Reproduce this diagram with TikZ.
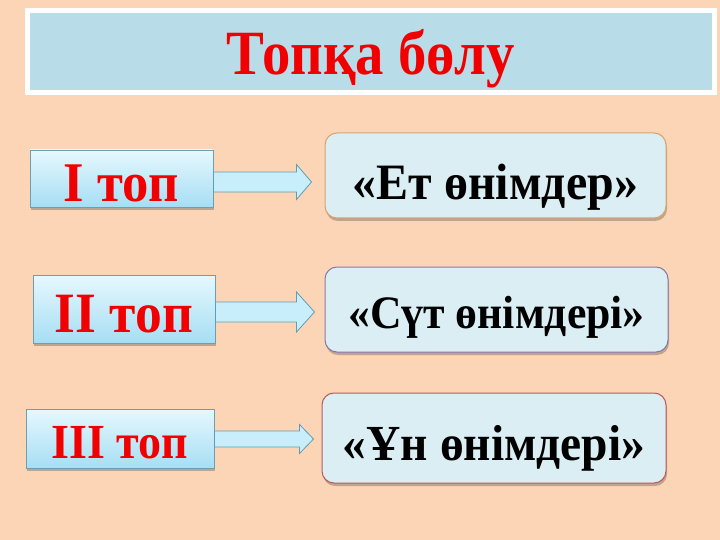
\documentclass[tikz,border=0pt]{standalone}
\usepackage{fontspec}
\setmainfont{Liberation Serif}
\usetikzlibrary{shadows,calc}
\definecolor{bgc}{HTML}{FBD5B5}
\definecolor{titlefill}{HTML}{B8DDE8}
\definecolor{rfill}{HTML}{DAEEF4}
\definecolor{rline1}{HTML}{DDA268}
\definecolor{rline2}{HTML}{8878A8}
\definecolor{rline3}{HTML}{C05858}
\definecolor{lline}{HTML}{6C9FB4}
\definecolor{ltop}{HTML}{E6F8FE}
\definecolor{lbot}{HTML}{A6DEF4}
\definecolor{afill}{HTML}{C8EEFB}
\definecolor{aline}{HTML}{5E9DB5}
\definecolor{tred}{HTML}{F00000}
\newcommand\sq[1]{\scalebox{0.94}[1]{#1}}
\tikzset{
  fnt/.style={font=\fontsize{#1}{#1}\selectfont\bfseries},
  sh/.style={drop shadow={shadow xshift=1pt,shadow yshift=-3pt,opacity=0.35,fill=black!70}},
  titlebox/.style={draw=white,line width=5pt,fill=titlefill,inner sep=0pt,sh,text=tred},
  leftbox/.style={draw=lline,line width=0.8pt,top color=ltop,bottom color=lbot,inner sep=0pt,sh,text=tred},
  rightbox/.style={draw=#1,line width=1pt,fill=rfill,rounded corners=12pt,inner sep=0pt,sh,text=black},
  arrowst/.style={draw=aline,line width=0.8pt,fill=afill,line join=miter},
}
\newcommand\blockarrow[5]{%
  \draw[arrowst] let \p1=#1, \p2=#2 in
    (\x1,\y2-#3) -- (\x2-#5,\y2-#3) -- (\x2-#5,\y2-#4) -- (\x2,\y2)
    -- (\x2-#5,\y2+#4) -- (\x2-#5,\y2+#3) -- (\x1,\y2+#3) -- cycle;}
\begin{document}
\begin{tikzpicture}[x=1pt,y=-1pt]
\fill[bgc] (0,0) rectangle (720,540);
\useasboundingbox (0,0) rectangle (720,540);

\node[titlebox,minimum width=687pt,minimum height=82pt,fnt=63,text height=46pt,text depth=0pt]
  (title) at (371,51.5) {\scalebox{0.9}[1]{Топқа бөлу}};

\node[leftbox,minimum width=183pt,minimum height=57pt,fnt=56,text height=47pt,text depth=0pt]
  (l1) at (121.5,178.5) {\sq{I топ}};
\node[leftbox,minimum width=182pt,minimum height=68pt,fnt=57,text height=46pt,text depth=0pt]
  (l2) at (124,309) {\sq{II топ}};
\node[leftbox,minimum width=188pt,minimum height=59pt,fnt=49,text height=39pt,text depth=0pt]
  (l3) at (120,438.5) {\sq{III топ}};

\node[rightbox=rline1,minimum width=341pt,minimum height=85pt,fnt=51,text height=48pt,text depth=0pt]
  (r1) at (495.5,175.5) {\sq{«Ет өнімдер»}};
\node[rightbox=rline2,minimum width=343pt,minimum height=85pt,fnt=46.5,text height=38pt,text depth=0pt]
  (r2) at (496.5,309.5) {\sq{«Сүт өнімдері»}};
\node[rightbox=rline3,minimum width=344pt,minimum height=90pt,fnt=50.5,text height=44pt,text depth=0pt]
  (r3) at (494,438) {\sq{«Ұн өнімдері»}};

\coordinate (t1) at ($(r1.west)+(-13,6.5)$);
\coordinate (t2) at ($(r2.west)+(-10,2.5)$);
\coordinate (t3) at ($(r3.west)+(-8,1)$);
\blockarrow{(l1.east)}{(t1)}{10}{17.5}{15}
\blockarrow{(l2.east)}{(t2)}{10}{20}{18}
\blockarrow{(l3.east)}{(t3)}{8}{14.5}{14}
\end{tikzpicture}
\end{document}
